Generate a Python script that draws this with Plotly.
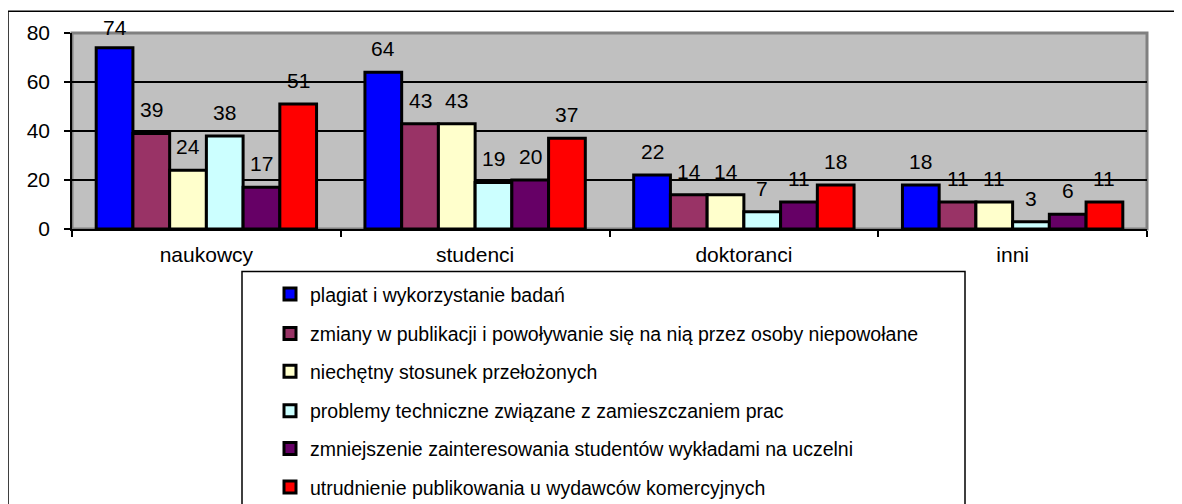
import plotly.graph_objects as go

categories = ["naukowcy", "studenci", "doktoranci", "inni"]
series_names = [
    "plagiat i wykorzystanie badań",
    "zmiany w publikacji i powoływanie się na nią przez osoby niepowołane",
    "niechętny stosunek przełożonych",
    "problemy techniczne związane z zamieszczaniem prac",
    "zmniejszenie zainteresowania studentów wykładami na uczelni",
    "utrudnienie publikowania u wydawców komercyjnych",
]
plagiat = [74, 64, 22, 18]
zmiany = [39, 43, 14, 11]
niechetny = [24, 43, 14, 11]
problemy = [38, 19, 7, 3]
zmniejszenie = [17, 20, 11, 6]
utrudnienie = [51, 37, 18, 11]
series_values = [plagiat, zmiany, niechetny, problemy, zmniejszenie, utrudnienie]
colors = ["#0000FF", "#993366", "#FFFFCC", "#CCFFFF", "#660066", "#FF0000"]
y_ticks = [0, 20, 40, 60, 80]

FONT = "Arial, 'Liberation Sans', sans-serif"
# the page body adds an 8px offset, so the figure is sized/placed accordingly
W, H = 1174, 512
ML, MR, MT, MB = 64, 35, 25, 289
plot_w = W - ML - MR
plot_h = H - MT - MB
BARGAP = 0.18
YMAX = 80

legend_ids = ["legend", "legend2", "legend3", "legend4", "legend5", "legend6"]
legend_centers_px = [289, 329, 367, 407, 445, 484]

fig = go.Figure()
for j, (name, vals, col) in enumerate(zip(series_names, series_values, colors)):
    fig.add_trace(go.Bar(
        x=categories, y=vals, name=name, legend=legend_ids[j],
        marker=dict(color=col, line=dict(color="black", width=3)),
    ))

# data labels
n = len(series_values)
grp = 1 - BARGAP
px_per_unit = plot_h / YMAX
for j, vals in enumerate(series_values):
    for i, v in enumerate(vals):
        xpos = i - grp / 2 + (j + 0.5) * grp / n
        shift = min(23.5, (YMAX - v) * px_per_unit + 5)
        fig.add_annotation(x=xpos, y=v, xref="x", yref="y", text=str(v),
                           showarrow=False, yanchor="middle", yshift=shift,
                           font=dict(family=FONT, size=21, color="black"))

def px_x(p):
    return (p - ML) / plot_w

def px_y(p):
    return (H - MB - p) / plot_h

shapes = [
    # outer chart border
    dict(type="rect", xref="paper", yref="paper",
         x0=px_x(0), x1=px_x(1200), y0=px_y(3), y1=px_y(540),
         line=dict(color="black", width=1.5), fillcolor="rgba(0,0,0,0)", layer="below"),
    # plot area border (gray)
    dict(type="rect", xref="paper", yref="paper", x0=0, x1=1, y0=0, y1=1,
         line=dict(color="#808080", width=3), fillcolor="rgba(0,0,0,0)", layer="below"),
    # legend box
    dict(type="rect", xref="paper", yref="paper",
         x0=px_x(234), x1=px_x(957), y0=px_y(266), y1=px_y(540),
         line=dict(color="black", width=1.5), fillcolor="rgba(0,0,0,0)"),
]

legends = {}
for lid, cy in zip(legend_ids, legend_centers_px):
    legends[lid] = dict(x=px_x(262), y=px_y(cy), xanchor="left", yanchor="middle",
                        bgcolor="rgba(0,0,0,0)", borderwidth=0,
                        font=dict(family=FONT, size=19.5, color="black"),
                        itemclick=False, itemdoubleclick=False)

fig.update_layout(
    width=W, height=H,
    margin=dict(l=ML, r=MR, t=MT, b=MB, pad=0),
    paper_bgcolor="white", plot_bgcolor="#C0C0C0",
    barmode="group", bargap=BARGAP, bargroupgap=0,
    font=dict(family=FONT, size=21, color="black"),
    shapes=shapes,
    showlegend=True,
    **legends,
)
fig.update_xaxes(
    showline=True, linecolor="black", linewidth=1.5,
    ticks="outside", tickson="boundaries", ticklen=6, tickcolor="black", tickwidth=1.5,
    showgrid=False, tickfont=dict(family=FONT, size=21), ticklabelstandoff=6,
)
fig.update_yaxes(
    range=[0, YMAX], tickvals=y_ticks,
    showline=True, linecolor="black", linewidth=1.5,
    ticks="outside", ticklen=6, tickcolor="black", tickwidth=1.5,
    showgrid=True, gridcolor="black", gridwidth=1.5,
    zeroline=False, tickfont=dict(family=FONT, size=21), ticklabelstandoff=10,
)

fig.write_html("out.html")
